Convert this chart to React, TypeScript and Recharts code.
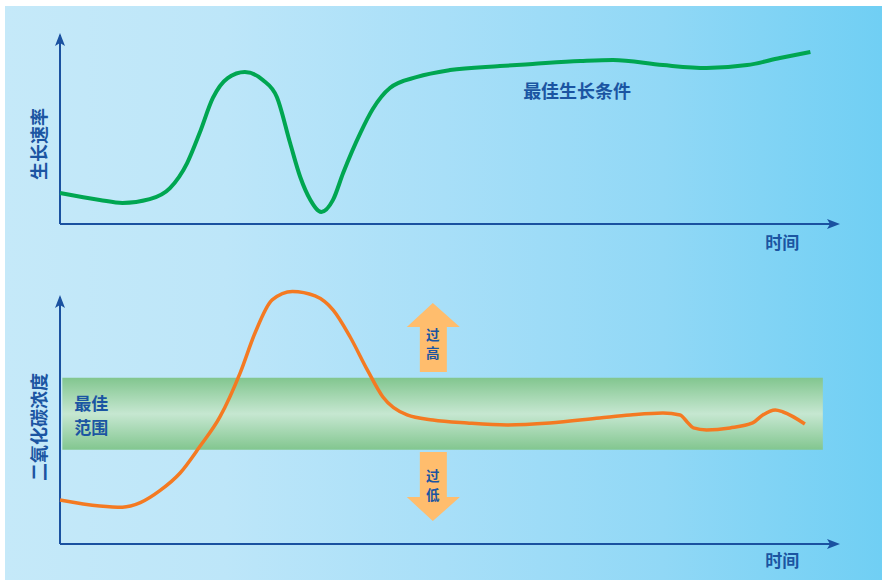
import React from 'react';
import { LineChart, Line, XAxis, YAxis, ReferenceLine, ReferenceDot, ReferenceArea } from 'recharts';

// ---- data (time on a 0–100 scale) ----
const growthTime = [0, 5.1, 8, 11.5, 14.1, 16.3, 17.9, 19.6, 21.5, 23.7, 26, 27.8, 29.5, 30.8, 32.1, 33.5, 35, 36.3, 38.5, 40.1, 42.3, 45.8, 50, 56.4, 60.6, 66.7, 70.9, 77.3, 82.9, 88.1, 92.3, 96.2];
const growthRate = [16.2, 12.6, 11, 13, 18.8, 31.9, 47.6, 66, 76.4, 79.6, 75.4, 66.5, 42.4, 24.6, 12.6, 6.3, 12.6, 26.7, 47.6, 60.2, 71.2, 77, 80.6, 82.7, 83.8, 85.3, 85.9, 83.2, 81.7, 83.2, 86.9, 90.1];

const co2Time = [0, 5.1, 8, 10.3, 12.8, 15.4, 17.9, 20.5, 23.1, 25, 27.2, 29.8, 32.7, 35, 37.2, 39.4, 41.4, 44.5, 47.8, 52.2, 57.3, 62.8, 69.2, 73.1, 77.3, 79.5, 80.4, 81.2, 82.9, 85.9, 88.8, 90.1, 91.7, 92.7, 95.5];
const co2Level = [17.7, 15.3, 14.8, 16.6, 21.4, 28.5, 39, 51, 68.7, 84.7, 98, 101.4, 99.6, 94, 83.1, 69.9, 59, 51.8, 49.8, 48.6, 47.8, 48.6, 50.6, 51.8, 52.6, 51.8, 49, 46.6, 45.8, 46.6, 48.6, 51.8, 53.8, 53, 48.2];

const optimalLow = 37.8;
const optimalHigh = 66.7;
const optimalStart = 0.3;
const optimalEnd = 97.8;

const growthLabel = '生长速率';
const co2Label = '二氧化碳浓度';
const timeLabel = '时间';
const bestGrowthLabel = '最佳生长条件';
const bestRangeLines = ['最佳', '范围'];
const tooHighLines = ['过', '高'];
const tooLowLines = ['过', '低'];

const growthData = growthTime.map((t, i) => ({ t, v: growthRate[i] }));
const co2Data = co2Time.map((t, i) => ({ t, v: co2Level[i] }));

const AXIS = '#1a51a0';
const TEXT = '#1b55a2';
const FONT = '"Noto Sans CJK SC", "Noto Sans", sans-serif';

const TextShape = (text: string, size: number, rotate = false) => (props: any) => {
  const { cx, cy } = props;
  return (
    <text
      x={cx}
      y={cy}
      textAnchor="middle"
      dominantBaseline="central"
      fontFamily={FONT}
      fontWeight={700}
      fontSize={size}
      fill={TEXT}
      transform={rotate ? `rotate(-90 ${cx} ${cy})` : undefined}
    >
      {text}
    </text>
  );
};

const ArrowRight = (props: any) => {
  const { cx, cy } = props;
  return <polygon points={`${cx},${cy} ${cx - 13},${cy - 5} ${cx - 10},${cy} ${cx - 13},${cy + 5}`} fill={AXIS} />;
};
const ArrowUp = (props: any) => {
  const { cx, cy } = props;
  return <polygon points={`${cx},${cy} ${cx + 5},${cy + 13} ${cx},${cy + 10} ${cx - 5},${cy + 13}`} fill={AXIS} />;
};

const BigArrow = (up: boolean, lines: string[]) => (props: any) => {
  const { cx, cy } = props;
  const s = up ? 1 : -1;
  const pts = [
    [0, 0],
    [27, 24],
    [14, 24],
    [14, 69],
    [-13, 69],
    [-13, 24],
    [-26, 24],
  ]
    .map(([dx, dy]) => `${cx + dx},${cy + s * dy}`)
    .join(' ');
  const offs = up ? [31, 49.5] : [-46.5, -27.5];
  return (
    <g>
      <polygon points={pts} fill="#ffbd6d" />
      {lines.map((l, i) => (
        <text
          key={i}
          x={cx}
          y={cy + offs[i]}
          textAnchor="middle"
          dominantBaseline="central"
          fontFamily={FONT}
          fontWeight={700}
          fontSize={13.5}
          fill={TEXT}
        >
          {l}
        </text>
      ))}
    </g>
  );
};

const BandLabel = (props: any) => {
  const { viewBox } = props;
  const x = viewBox.x + 29;
  const y = viewBox.y;
  return (
    <g>
      {bestRangeLines.map((l, i) => (
        <text
          key={i}
          x={x}
          y={y + 25 + i * 24}
          textAnchor="middle"
          dominantBaseline="central"
          fontFamily={FONT}
          fontWeight={700}
          fontSize={17}
          fill={TEXT}
        >
          {l}
        </text>
      ))}
    </g>
  );
};

export default function App() {
  return (
    <div style={{ position: 'absolute', left: 0, top: 0, width: 882, height: 580, background: '#ffffff', overflow: 'hidden' }}>
      <div
        style={{
          position: 'absolute',
          left: 5,
          top: 6,
          right: 0,
          bottom: 0,
          background: 'linear-gradient(to right, #c5e9f9 0%, #bde6f9 25%, #a8dff8 50%, #91d8f6 75%, #70cff4 100%)',
        }}
      />
      <div style={{ position: 'absolute', left: 0, top: 0 }}>
        <LineChart width={882} height={260} data={growthData} margin={{ top: 33, right: 42, bottom: 36, left: 60 }}>
          <XAxis dataKey="t" type="number" domain={[0, 100]} hide />
          <YAxis type="number" domain={[0, 100]} hide />
          <ReferenceLine segment={[{ x: 0, y: 0 }, { x: 99, y: 0 }]} stroke={AXIS} strokeWidth={2} ifOverflow="visible" />
          <ReferenceLine segment={[{ x: 0, y: 0 }, { x: 0, y: 99 }]} stroke={AXIS} strokeWidth={2} ifOverflow="visible" />
          <ReferenceDot x={100} y={0} ifOverflow="visible" shape={ArrowRight} />
          <ReferenceDot x={0} y={100} ifOverflow="visible" shape={ArrowUp} />
          <Line dataKey="v" type="monotone" stroke="#00a651" strokeWidth={4} dot={false} isAnimationActive={false} />
          <ReferenceDot x={66.3} y={70.2} ifOverflow="visible" shape={TextShape(bestGrowthLabel, 18)} />
          <ReferenceDot x={92.6} y={-9.4} ifOverflow="visible" shape={TextShape(timeLabel, 17)} />
          <ReferenceDot x={-2.8} y={41.9} ifOverflow="visible" shape={TextShape(growthLabel, 18, true)} />
        </LineChart>
      </div>
      <div style={{ position: 'absolute', left: 0, top: 260 }}>
        <LineChart width={882} height={320} data={co2Data} margin={{ top: 10, right: 42, bottom: 36, left: 60 }}>
          <defs>
            <linearGradient id="bandGrad" x1="0" y1="0" x2="0" y2="1">
              <stop offset="0%" stopColor="#82c68f" />
              <stop offset="50%" stopColor="#c6e7d1" />
              <stop offset="100%" stopColor="#82c68f" />
            </linearGradient>
          </defs>
          <XAxis dataKey="t" type="number" domain={[0, 100]} hide />
          <YAxis type="number" domain={[0, 110]} hide />
          <ReferenceArea
            x1={optimalStart}
            x2={optimalEnd}
            y1={optimalLow}
            y2={optimalHigh}
            fill="url(#bandGrad)"
            fillOpacity={1}
            stroke="none"
            ifOverflow="visible"
            label={<BandLabel />}
          />
          <ReferenceLine segment={[{ x: 0, y: 0 }, { x: 99, y: 0 }]} stroke={AXIS} strokeWidth={2} ifOverflow="visible" />
          <ReferenceLine segment={[{ x: 0, y: 0 }, { x: 0, y: 99 }]} stroke={AXIS} strokeWidth={2} ifOverflow="visible" />
          <ReferenceDot x={100} y={0} ifOverflow="visible" shape={ArrowRight} />
          <ReferenceDot x={0} y={100} ifOverflow="visible" shape={ArrowUp} />
          <ReferenceDot x={47.8} y={96.8} ifOverflow="visible" shape={BigArrow(true, tooHighLines)} />
          <ReferenceDot x={47.8} y={9.2} ifOverflow="visible" shape={BigArrow(false, tooLowLines)} />
          <Line dataKey="v" type="monotone" stroke="#f47a22" strokeWidth={3.5} dot={false} isAnimationActive={false} />
          <ReferenceDot x={92.6} y={-6.4} ifOverflow="visible" shape={TextShape(timeLabel, 17)} />
          <ReferenceDot x={-2.8} y={47} ifOverflow="visible" shape={TextShape(co2Label, 18, true)} />
        </LineChart>
      </div>
    </div>
  );
}
